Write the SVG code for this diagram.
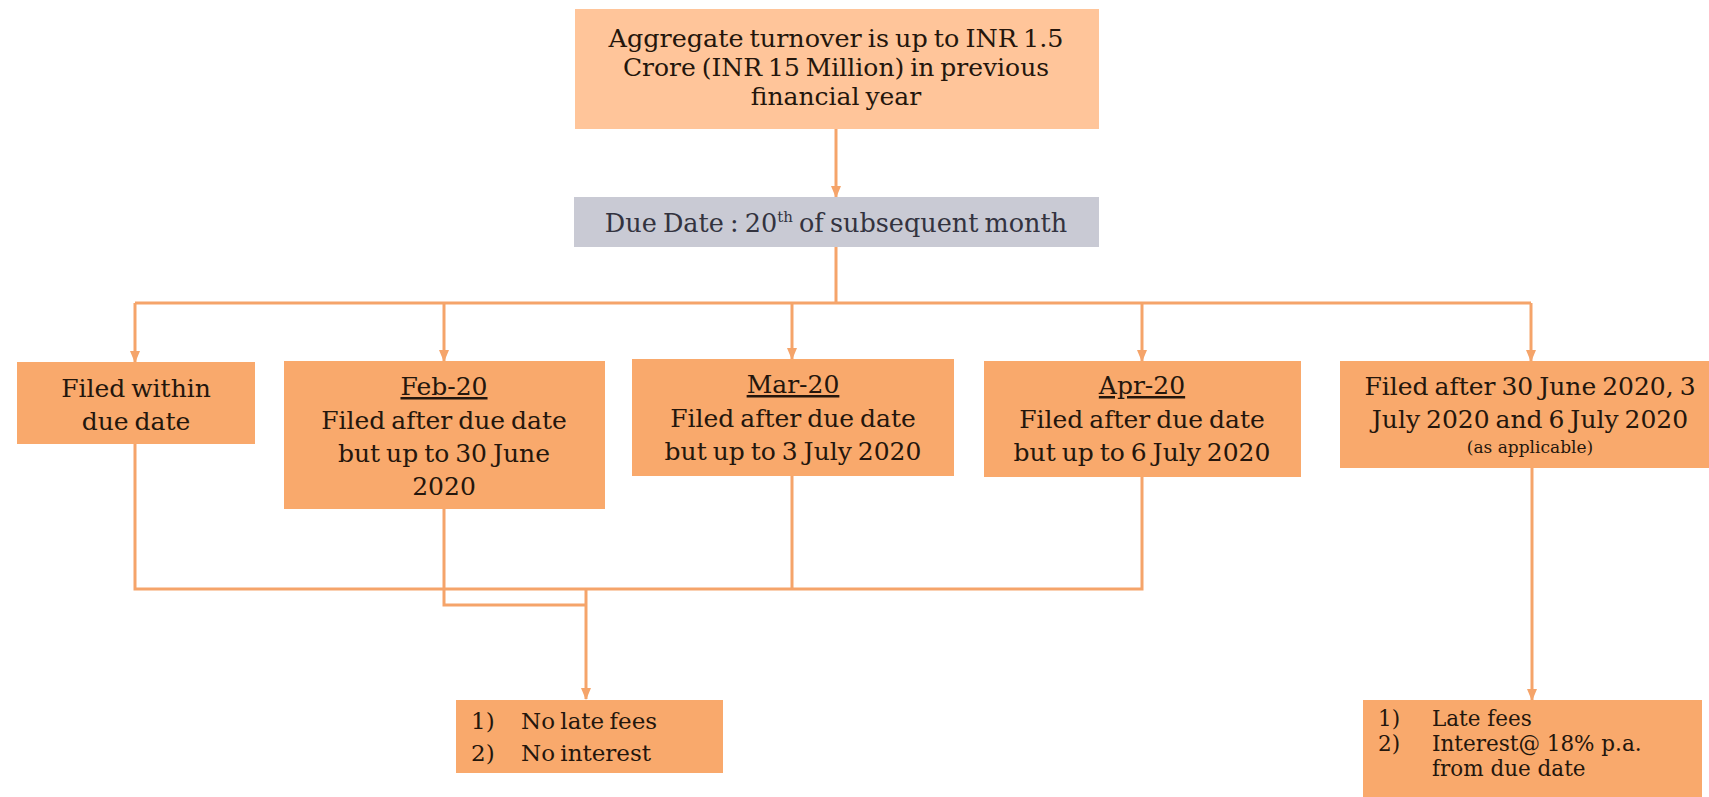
<svg xmlns="http://www.w3.org/2000/svg" width="1709" height="797" viewBox="0 0 1709 797">
<defs>
<marker id="arr" markerWidth="12" markerHeight="12" refX="11" refY="6" orient="auto" markerUnits="userSpaceOnUse" viewBox="0 0 12 12">
<path d="M0,1 L12,6 L0,11 Z" fill="#F5A46A"/>
</marker>
<style>
.box{fill:#F9A96C}
.top{fill:#FFC59A}
.grey{fill:#C9CAD4}
.t{font-family:"DejaVu Serif","Liberation Serif",serif;font-size:25px;fill:#24160C;text-anchor:middle;word-spacing:-2px}
.g{fill:#33333F;font-size:25.5px}
.s{font-size:17px;word-spacing:0}
.l{text-anchor:start}
.n{font-size:23px}
.m{font-size:21.5px;word-spacing:0}
.u{text-decoration:underline}
.c{fill:none;stroke:#F5A46A;stroke-width:3}
</style>
</defs>
<rect width="1709" height="797" fill="#FFFFFF"/>
<g id="connectors">
<path class="c" d="M836,129 V197" marker-end="url(#arr)"/>
<path class="c" d="M836,247 V303 M135,303 H1531"/>
<path class="c" d="M135,303 V362" marker-end="url(#arr)"/>
<path class="c" d="M444,303 V361" marker-end="url(#arr)"/>
<path class="c" d="M792,303 V359" marker-end="url(#arr)"/>
<path class="c" d="M1142,303 V361" marker-end="url(#arr)"/>
<path class="c" d="M1531,303 V361" marker-end="url(#arr)"/>
<path class="c" d="M135,444 V589 H1142 V477 M792,476 V589"/>
<path class="c" d="M444,509 V605 H586"/>
<path class="c" d="M586,589 V699" marker-end="url(#arr)"/>
<path class="c" d="M1532,468 V700" marker-end="url(#arr)"/>
</g>
<g id="n-top">
<rect class="top" x="575" y="9" width="524" height="120"/>
<text class="t" x="836" y="47" textLength="455" lengthAdjust="spacingAndGlyphs">Aggregate turnover is up to INR 1.5</text>
<text class="t" x="836" y="76">Crore (INR 15 Million) in previous</text>
<text class="t" x="836" y="105">financial year</text>
</g>
<g id="n-due">
<rect class="grey" x="574" y="197" width="525" height="50"/>
<text class="t g" x="836" y="232">Due Date : 20<tspan font-size="15" dy="-10">th</tspan><tspan dy="10"> of subsequent month</tspan></text>
</g>
<g id="n-within">
<rect class="box" x="17" y="362" width="238" height="82"/>
<text class="t" x="136" y="397">Filed within</text>
<text class="t" x="136" y="430">due date</text>
</g>
<g id="n-feb">
<rect class="box" x="284" y="361" width="321" height="148"/>
<text class="t u" x="444" y="395">Feb-20</text>
<text class="t" x="444" y="429">Filed after due date</text>
<text class="t" x="444" y="462">but up to 30 June</text>
<text class="t" x="444" y="495">2020</text>
</g>
<g id="n-mar">
<rect class="box" x="632" y="359" width="322" height="117"/>
<text class="t u" x="793" y="393">Mar-20</text>
<text class="t" x="793" y="427">Filed after due date</text>
<text class="t" x="793" y="460">but up to 3 July 2020</text>
</g>
<g id="n-apr">
<rect class="box" x="984" y="361" width="317" height="116"/>
<text class="t u" x="1142" y="394">Apr-20</text>
<text class="t" x="1142" y="428">Filed after due date</text>
<text class="t" x="1142" y="461">but up to 6 July 2020</text>
</g>
<g id="n-after">
<rect class="box" x="1340" y="361" width="369" height="107"/>
<text class="t" x="1530" y="395">Filed after 30 June 2020, 3</text>
<text class="t" x="1530" y="428">July 2020 and 6 July 2020</text>
<text class="t s" x="1530" y="453">(as applicable)</text>
</g>
<g id="n-nolate">
<rect class="box" x="456" y="700" width="267" height="73"/>
<text class="t l n" x="471" y="729">1)</text>
<text class="t l n" x="521" y="729">No late fees</text>
<text class="t l n" x="471" y="761">2)</text>
<text class="t l n" x="521" y="761">No interest</text>
</g>
<g id="n-late">
<rect class="box" x="1363" y="700" width="339" height="97"/>
<text class="t l m" x="1378" y="726">1)</text>
<text class="t l m" x="1432" y="726">Late fees</text>
<text class="t l m" x="1378" y="751">2)</text>
<text class="t l m" x="1432" y="751">Interest@ 18% p.a.</text>
<text class="t l m" x="1432" y="776">from due date</text>
</g>
</svg>
